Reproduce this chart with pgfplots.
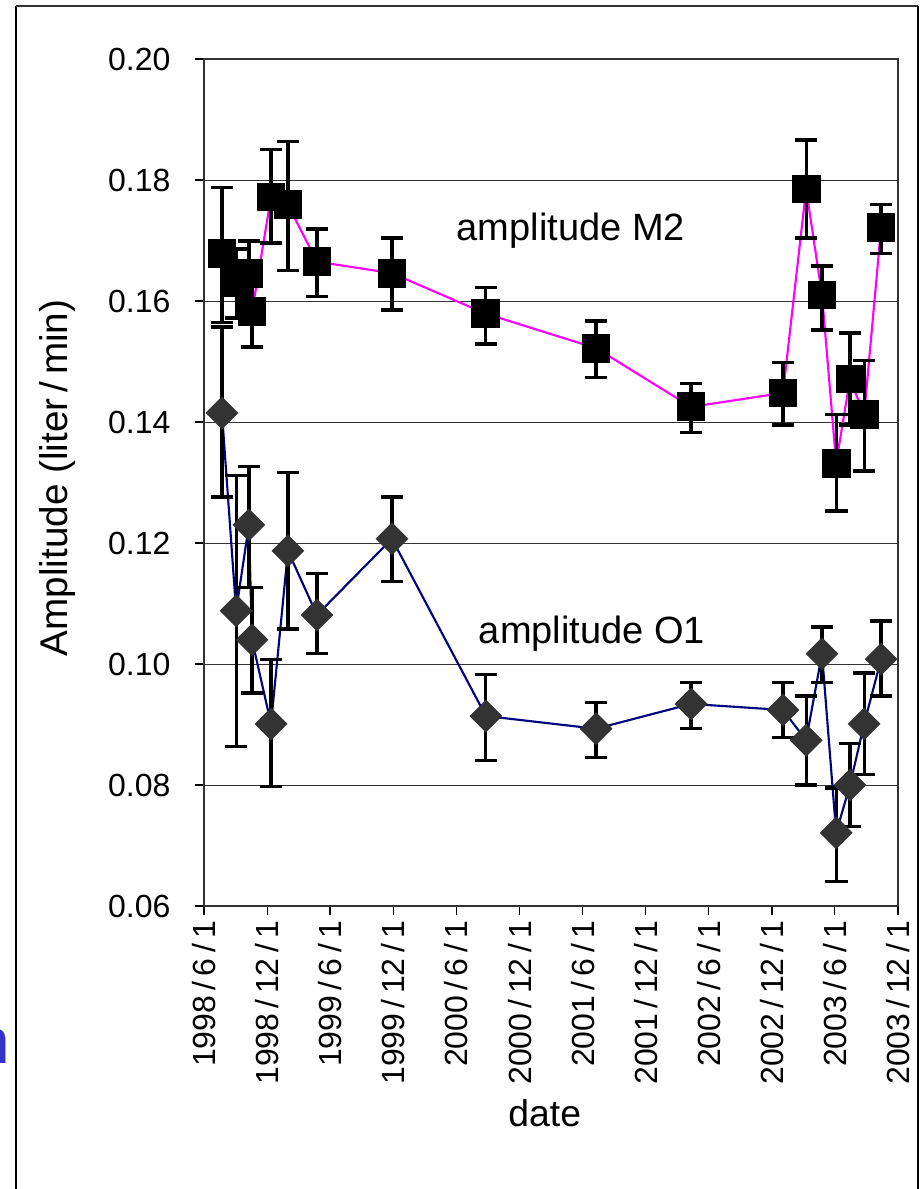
\documentclass[border=0pt]{standalone}
\usepackage{pgfplots}
\pgfplotsset{compat=1.18}
\usepackage{pgfplotstable}
\usepackage{fontspec}
\setmainfont{Liberation Sans}
\definecolor{mag}{RGB}{255,0,255}
\definecolor{navyline}{RGB}{0,0,128}
\definecolor{dkgray}{RGB}{51,51,51}
\definecolor{nblue}{RGB}{51,51,204}

% x = days since 1998/6/1
\pgfplotstableread{
x     y      ep     em
52    0.1679 0.0109 0.0114
93    0.1630 0.0056 0.0058
130   0.1646 0.0053 0.0053
139   0.1582 0.0058 0.0058
194   0.1772 0.0078 0.0076
243   0.1759 0.0104 0.0109
327   0.1665 0.0054 0.0057
544   0.1646 0.0058 0.0061
816   0.1579 0.0043 0.0050
1135  0.1522 0.0045 0.0049
1410  0.1425 0.0039 0.0043
1676  0.1448 0.0050 0.0053
1743  0.1785 0.0081 0.0081
1789  0.1610 0.0048 0.0058
1830  0.1332 0.0081 0.0079
1870  0.1471 0.0076 0.0076
1911  0.1412 0.0089 0.0093
1960  0.1721 0.0039 0.0043
}\mtwo

\pgfplotstableread{
x     y      ep     em
52    0.1415 0.0142 0.0139
93    0.1088 0.0223 0.0225
130   0.1230 0.0096 0.0103
139   0.1040 0.0087 0.0088
194   0.0901 0.0107 0.0103
243   0.1187 0.0130 0.0129
327   0.1081 0.0069 0.0064
544   0.1207 0.0069 0.0070
816   0.0914 0.0069 0.0073
1135  0.0893 0.0044 0.0047
1410  0.0934 0.0036 0.0041
1676  0.0924 0.0045 0.0046
1743  0.0874 0.0073 0.0074
1789  0.1017 0.0044 0.0047
1830  0.0721 0.0074 0.0080
1870  0.0800 0.0069 0.0069
1911  0.0901 0.0084 0.0083
1960  0.1008 0.0063 0.0061
}\oone

\begin{document}
\begin{tikzpicture}
\useasboundingbox (0pt,0pt) rectangle (690pt,891.75pt);
% outer frame (bottom is outside the picture)
\draw[black, line width=1pt] (12pt,-15pt) -- (12pt,887.25pt);
\draw[dkgray, line width=1.5pt] (12pt,887.25pt) -- (688.5pt,887.25pt);
\draw[black, line width=1.5pt] (688.5pt,887.25pt) -- (688.5pt,-15pt);
% cut-off blue letter at the left edge
\node[anchor=base east, text=nblue, font=\fontsize{48}{50}\selectfont, inner sep=0pt] at (7.5pt,93.75pt) {n};

\begin{axis}[
  at={(153pt,212.25pt)}, anchor=south west,
  scale only axis, width=520.5pt, height=635.25pt,
  xmin=0, xmax=2009, ymin=0.06, ymax=0.20,
  xtick={0,183,365,548,731,914,1096,1279,1461,1644,1826,2009},
  xticklabels={1998\,/\,6\,/\,1,1998\,/\,12\,/\,1,1999\,/\,6\,/\,1,1999\,/\,12\,/\,1,2000\,/\,6\,/\,1,2000\,/\,12\,/\,1,2001\,/\,6\,/\,1,2001\,/\,12\,/\,1,2002\,/\,6\,/\,1,2002\,/\,12\,/\,1,2003\,/\,6\,/\,1,2003\,/\,12\,/\,1},
  ytick={0.06,0.08,0.10,0.12,0.14,0.16,0.18,0.20},
  yticklabels={0.06,0.08,0.10,0.12,0.14,0.16,0.18,0.20},
  ymajorgrids,
  grid style={dkgray, line width=0.7pt},
  tick align=outside, tick pos=left, major tick length=7pt,
  tick style={black, line width=1pt},
  axis line style={dkgray, line width=1.1pt},
  xticklabel style={rotate=90, anchor=east, inner sep=4pt, font=\fontsize{24}{26}\selectfont},
  yticklabel style={inner sep=0pt, xshift=-18pt, font=\fontsize{24}{26}\selectfont},
  xlabel={date},
  ylabel={Amplitude (liter\,/\,min)},
  xlabel style={at={(axis description cs:0.491,-0.2444)}, anchor=center, inner sep=0pt, font=\fontsize{28}{30}\selectfont},
  ylabel style={at={(axis description cs:-0.2104,0.5053)}, anchor=center, inner sep=0pt, font=\fontsize{29}{31}\selectfont},
  clip=false,
]
\addplot[navyline, line width=1.6pt, mark=square*, mark size=7.9pt,
  mark options={dkgray, fill=dkgray, solid, rotate=45},
  error bars/.cd, y dir=both, y explicit,
  error bar style={black, line width=2.4pt},
  error mark options={rotate=90, mark size=8.5pt, line width=2.4pt, black}]
  table[x=x, y=y, y error plus=ep, y error minus=em] {\oone};

\addplot[mag, line width=1.6pt, mark=square*, mark size=10pt,
  mark options={black, fill=black, solid, rounded corners=1.2pt},
  error bars/.cd, y dir=both, y explicit,
  error bar style={black, line width=2.4pt},
  error mark options={rotate=90, mark size=8.5pt, line width=2.4pt, black}]
  table[x=x, y=y, y error plus=ep, y error minus=em] {\mtwo};

\node[font=\fontsize{28.5}{30}\selectfont, inner sep=0pt] at (axis cs:1062,0.1717) {amplitude M2};
\node[font=\fontsize{28.5}{30}\selectfont, inner sep=0pt] at (axis cs:1123,0.1050) {amplitude O1};
\end{axis}
\end{tikzpicture}
\end{document}
